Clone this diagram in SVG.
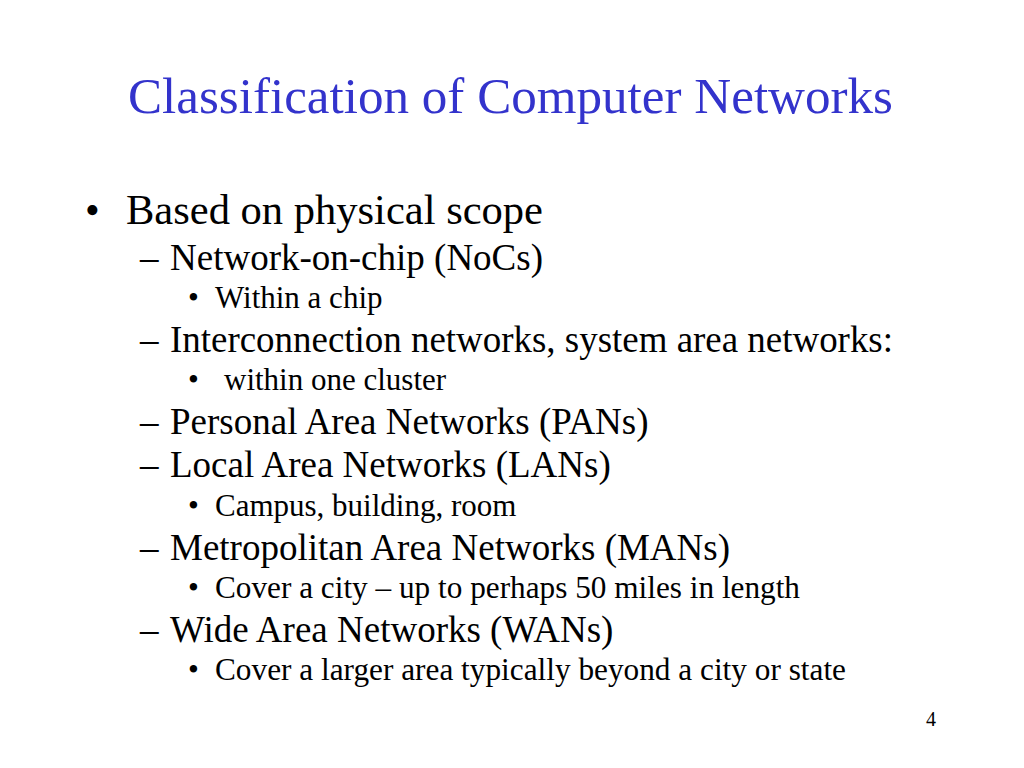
<svg xmlns="http://www.w3.org/2000/svg" width="1024" height="768" viewBox="0 0 1024 768">
<style>
text{font-family:"Liberation Serif","Times New Roman",serif;fill:#000}
.t{fill:#3333cc;font-size:51px}
.l1{font-size:42px}
.l2{font-size:37px}
.l3{font-size:31px}
</style>
<rect width="1024" height="768" fill="#fff"/>
<text class="t" x="128" y="113" textLength="765" lengthAdjust="spacingAndGlyphs">Classification of Computer Networks</text>
<text class="l1" x="85" y="224">•</text><text class="l1" x="126" y="224" textLength="417" lengthAdjust="spacingAndGlyphs">Based on physical scope</text>
<g class="l2">
<text x="140" y="270">–</text><text x="170" y="270">Network-on-chip (NoCs)</text>
<text x="140" y="352">–</text><text x="170" y="352" textLength="723" lengthAdjust="spacingAndGlyphs">Interconnection networks, system area networks:</text>
<text x="140" y="434">–</text><text x="170" y="434">Personal Area Networks (PANs)</text>
<text x="140" y="477">–</text><text x="170" y="477">Local Area Networks (LANs)</text>
<text x="140" y="560">–</text><text x="170" y="560">Metropolitan Area Networks (MANs)</text>
<text x="140" y="642">–</text><text x="170" y="642">Wide Area Networks (WANs)</text>
</g>
<g class="l3">
<text x="188" y="308">•</text><text x="215" y="308">Within a chip</text>
<text x="188" y="390">•</text><text x="224" y="390">within one cluster</text>
<text x="188" y="516">•</text><text x="215" y="516">Campus, building, room</text>
<text x="188" y="598">•</text><text x="215" y="598" textLength="585" lengthAdjust="spacingAndGlyphs">Cover a city – up to perhaps 50 miles in length</text>
<text x="188" y="680">•</text><text x="215" y="680" textLength="631" lengthAdjust="spacingAndGlyphs">Cover a larger area typically beyond a city or state</text>
</g>
<text x="931" y="726" font-size="20" text-anchor="middle">4</text>
</svg>
